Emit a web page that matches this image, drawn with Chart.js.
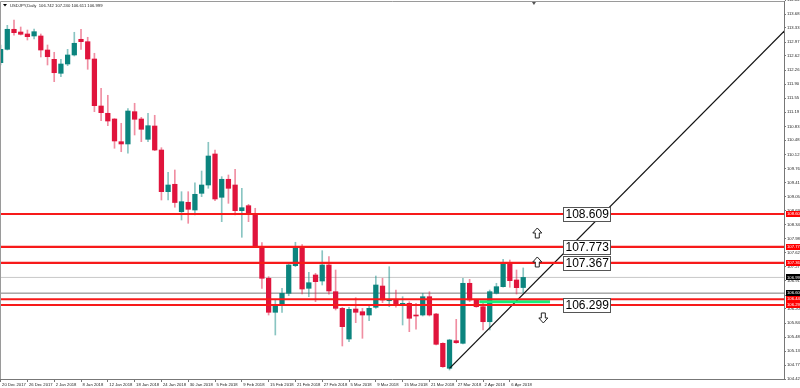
<!DOCTYPE html>
<html>
<head>
<meta charset="utf-8">
<script src="https://cdn.jsdelivr.net/npm/chart.js@4.4.0/dist/chart.umd.min.js"></script>
<style>
  html, body { margin: 0; padding: 0; background: #fff; }
  canvas { display: block; }
</style>
</head>
<body>
<canvas id="chart" width="800" height="388"></canvas>
<script>
// USDJPY daily candles, bar index 0 = 20 Dec 2017 ... 78 = 10 Apr 2018
const opens  = [112.449,112.789,113.297,113.228,113.178,113.127,113.127,112.771,112.535,112.180,
                112.416,112.645,113.043,112.982,112.543,111.350,111.165,111.020,110.444,110.386,
                111.206,111.020,110.505,110.842,110.233,109.175,109.363,108.667,108.906,108.710,
                109.134,109.345,110.132,109.033,109.490,109.345,108.693,108.820,108.584,107.779,
                106.977,106.114,106.325,106.596,107.297,107.779,106.723,107.061,106.908,107.315,
                106.637,106.215,105.436,106.198,106.129,106.045,106.241,106.781,106.408,106.444,
                106.299,106.342,106.045,106.045,106.510,106.071,105.327,104.693,105.393,105.327,
                106.850,106.426,106.256,105.875,106.596,106.764,107.373,106.934,106.742];
const highs  = [112.898,113.398,113.533,113.355,113.279,113.304,113.178,112.898,112.713,112.535,
                112.789,113.221,113.297,113.094,112.688,111.799,111.622,111.030,110.911,111.282,
                111.419,111.063,111.165,111.114,110.292,109.667,109.726,109.175,109.175,109.403,
                109.700,110.429,110.233,109.556,109.599,109.744,109.261,108.855,108.754,107.881,
                107.018,106.426,106.723,107.373,107.891,107.830,107.129,107.104,107.678,107.525,
                107.188,106.241,106.241,106.484,106.215,106.274,107.035,106.977,107.271,106.680,
                106.510,106.383,106.342,106.596,106.637,106.088,105.340,105.429,105.936,106.977,
                106.951,106.444,106.358,106.680,106.850,107.459,107.441,107.188,107.240];
const lows   = [112.391,112.771,113.150,113.152,113.025,113.051,112.594,112.391,111.967,112.094,
                112.373,112.619,112.789,112.282,111.206,110.977,110.850,110.277,110.190,110.150,
                110.614,110.444,110.444,110.216,108.964,108.964,108.780,108.457,108.373,108.584,
                109.048,109.261,108.946,108.414,108.880,108.584,108.018,108.414,107.760,106.723,
                106.045,105.538,106.114,106.535,107.271,106.578,106.510,106.383,106.807,106.571,
                106.173,105.259,105.368,105.850,105.454,105.901,106.215,106.358,106.256,106.241,
                105.792,105.622,105.683,106.020,106.020,105.284,104.718,104.650,105.327,105.310,
                106.383,106.241,105.665,105.665,106.578,106.749,106.749,106.578,106.611];
const closes = [112.789,113.297,113.211,113.170,113.109,113.236,112.771,112.601,112.195,112.416,
                112.645,112.942,112.982,112.543,111.358,111.180,110.969,110.462,110.386,111.223,
                111.013,110.759,110.850,110.233,109.175,109.345,108.900,108.921,108.728,109.109,
                109.345,110.081,108.990,109.490,109.261,108.693,108.769,108.609,107.779,106.977,
                106.114,106.299,106.596,107.315,107.779,106.705,106.865,106.891,107.315,106.655,
                106.215,105.749,106.190,106.114,106.045,106.215,106.807,106.426,106.444,106.325,
                106.342,105.962,106.020,106.510,106.045,105.302,104.733,105.411,105.342,106.850,
                106.426,106.256,105.875,106.637,106.764,107.373,106.917,106.739,106.999];

const dateTickBars = [0,4,8,12,16,20,24,28,32,36,40,44,48,52,56,60,64,68,72,76];
const dateLabels = ['20 Dec 2017','26 Dec 2017','2 Jan 2018','8 Jan 2018','12 Jan 2018','18 Jan 2018',
                    '24 Jan 2018','30 Jan 2018','5 Feb 2018','9 Feb 2018','15 Feb 2018','21 Feb 2018',
                    '27 Feb 2018','5 Mar 2018','9 Mar 2018','15 Mar 2018','21 Mar 2018','27 Mar 2018',
                    '2 Apr 2018','6 Apr 2018'];
const priceTicks = [114.04,113.68,113.33,112.97,112.62,112.26,111.90,111.55,111.19,110.83,110.48,110.12,
                    109.76,109.41,109.05,108.69,108.34,107.98,107.62,107.27,106.91,106.55,106.20,105.84,
                    105.48,105.13,104.77,104.42];

// drawn objects
const redLevels = [108.609, 107.773, 107.367, 106.445, 106.299];
const boxedLevels = [108.609, 107.773, 107.367, 106.299];
const bidPrice = 106.999;
const grayLevel = 106.600;
const greenZone = { from: 71.45, to: 82.0, price: 106.38 };
const trendPoints = [[67, 104.69], [120, 113.77]];
const upArrows = [[80.1, 108.127], [80.1, 107.391]];
const downArrows = [[81.0, 105.97]];
const boxBar = 83.9;
const shiftBar = 79.6;
const title = 'USDJPY,Daily  106.742 107.240 106.611 106.999';

const xMin = -0.09, xMax = 116.92;
const yMin = 104.421, yMax = 114.015;

const bullBody = [], bearBody = [], bullWick = [], bearWick = [];
for (let i = 0; i < opens.length; i++) {
    const up = closes[i] >= opens[i];
    (up ? bullBody : bearBody).push({ x: i, y: [opens[i], closes[i]] });
    (up ? bullWick : bearWick).push({ x: i, y: [lows[i], highs[i]] });
}

function hline(v, color, width, order) {
    return { type: 'line', data: [{ x: xMin, y: v }, { x: xMax, y: v }],
             borderColor: color, borderWidth: width, pointRadius: 0, order: order };
}

const small = '4.2px "Liberation Sans", Arial, sans-serif';

function drawArrow(ctx, cx, cy, dir) {
    // dir -1 = up, 1 = down
    ctx.beginPath();
    ctx.moveTo(cx, cy + dir * 5);
    ctx.lineTo(cx + 4.5, cy);
    ctx.lineTo(cx + 2, cy);
    ctx.lineTo(cx + 2, cy - dir * 5);
    ctx.lineTo(cx - 2, cy - dir * 5);
    ctx.lineTo(cx - 2, cy);
    ctx.lineTo(cx - 4.5, cy);
    ctx.closePath();
    ctx.fillStyle = '#fff';
    ctx.fill();
    ctx.strokeStyle = '#222';
    ctx.lineWidth = 1;
    ctx.stroke();
}

const overlay = {
    id: 'overlay',
    afterDatasetsDraw(chart) {
        const { ctx, scales: { x, y } } = chart;
        ctx.save();
        // level price boxes
        ctx.font = '12px "Liberation Sans", Arial, sans-serif';
        ctx.textBaseline = 'middle';
        ctx.textAlign = 'left';
        boxedLevels.forEach(v => {
            const px = Math.round(x.getPixelForValue(boxBar)) + 0.5;
            const py = Math.round(y.getPixelForValue(v) - 7) + 0.5;
            ctx.fillStyle = '#fff';
            ctx.fillRect(px, py, 47, 14);
            ctx.strokeStyle = '#555';
            ctx.lineWidth = 1;
            ctx.strokeRect(px, py, 47, 14);
            ctx.fillStyle = '#000';
            ctx.fillText(v.toFixed(3), px + 2, py + 7.5);
        });
        upArrows.forEach(p => drawArrow(ctx, x.getPixelForValue(p[0]), y.getPixelForValue(p[1]), -1));
        downArrows.forEach(p => drawArrow(ctx, x.getPixelForValue(p[0]), y.getPixelForValue(p[1]), 1));
        ctx.restore();
    },
    afterDraw(chart) {
        const { ctx, chartArea: a, scales: { x, y } } = chart;
        ctx.save();
        // frame
        ctx.strokeStyle = '#9a9a9a';
        ctx.lineWidth = 1;
        ctx.beginPath();
        ctx.moveTo(0.5, a.bottom);
        ctx.lineTo(0.5, a.top + 0.5);
        ctx.lineTo(a.right, a.top + 0.5);
        ctx.stroke();
        // title
        ctx.fillStyle = '#000';
        ctx.beginPath();
        ctx.moveTo(3, 4); ctx.lineTo(7, 4); ctx.lineTo(5, 6.5); ctx.closePath();
        ctx.fill();
        ctx.font = small;
        ctx.textBaseline = 'middle';
        ctx.textAlign = 'left';
        ctx.fillStyle = '#222';
        ctx.fillText(title, 10, 5.5);
        // chart shift marker
        const sx = x.getPixelForValue(shiftBar);
        ctx.fillStyle = '#555';
        ctx.beginPath();
        ctx.moveTo(sx - 2, a.top + 1); ctx.lineTo(sx + 2, a.top + 1); ctx.lineTo(sx, a.top + 4); ctx.closePath();
        ctx.fill();
        // price tags on the axis
        const tag = (v, bg) => {
            const py = y.getPixelForValue(v);
            ctx.fillStyle = bg;
            ctx.fillRect(a.right + 2, Math.round(py) - 3, 20, 6);
            ctx.fillStyle = '#fff';
            ctx.fillText(v.toFixed(3), a.right + 3, py);
        };
        redLevels.forEach(v => tag(v, '#ff0000'));
        tag(bidPrice, '#000');
        tag(grayLevel, '#000');
        ctx.restore();
    }
};

new Chart(document.getElementById('chart'), {
    type: 'bar',
    data: {
        datasets: [
            hline(bidPrice, '#c8c8c8', 1, 3),
            hline(grayLevel, '#7a7a7a', 1, 3),
            { data: bullWick, backgroundColor: 'rgba(20,140,134,0.5)', barThickness: 1, grouped: false, order: 2 },
            { data: bearWick, backgroundColor: 'rgba(225,30,70,0.5)', barThickness: 1, grouped: false, order: 2 },
            { data: bullBody, backgroundColor: '#0b847e', barThickness: 4.6, minBarLength: 1, grouped: false, order: 1 },
            { data: bearBody, backgroundColor: '#e0143c', barThickness: 4.6, minBarLength: 1, grouped: false, order: 1 },
            ...redLevels.map(v => hline(v, '#f71a1a', 2.2, 0)),
            { type: 'line', data: [{ x: greenZone.from, y: greenZone.price }, { x: greenZone.to, y: greenZone.price }],
              borderColor: '#14f07a', borderWidth: 3, pointRadius: 0, order: 0 },
            { type: 'line', data: trendPoints.map(p => ({ x: p[0], y: p[1] })),
              borderColor: '#111', borderWidth: 1.3, pointRadius: 0, order: 0 }
        ]
    },
    options: {
        responsive: false,
        animation: false,
        events: [],
        layout: { padding: { top: 1, left: 0, right: 0, bottom: 0 } },
        plugins: { legend: { display: false }, tooltip: { enabled: false } },
        scales: {
            x: {
                type: 'linear', min: xMin, max: xMax, offset: false,
                grid: { drawOnChartArea: false, offset: false, tickLength: 3, color: '#777' },
                border: { color: '#777' },
                ticks: {
                    autoSkip: false, maxRotation: 0, align: 'start', padding: 0, labelOffset: 1.5,
                    font: { size: 4.2, family: '"Liberation Sans", Arial, sans-serif' }, color: '#222',
                    callback: v => dateLabels[dateTickBars.indexOf(v)] || ''
                },
                afterBuildTicks: s => { s.ticks = dateTickBars.map(v => ({ value: v })); },
                afterFit: s => { s.height = 9; s.paddingLeft = 0; s.paddingRight = 0; }
            },
            y: {
                type: 'linear', position: 'right', min: yMin, max: yMax,
                grid: { drawOnChartArea: false, tickLength: 2, color: '#777' },
                border: { color: '#777' },
                ticks: {
                    padding: 1,
                    font: { size: 4.2, family: '"Liberation Sans", Arial, sans-serif' }, color: '#222',
                    callback: v => v.toFixed(2)
                },
                afterBuildTicks: s => { s.ticks = priceTicks.map(v => ({ value: v })); },
                afterFit: s => { s.width = 16; s.paddingTop = 0; s.paddingBottom = 0; }
            }
        }
    },
    plugins: [overlay]
});
</script>
</body>
</html>
